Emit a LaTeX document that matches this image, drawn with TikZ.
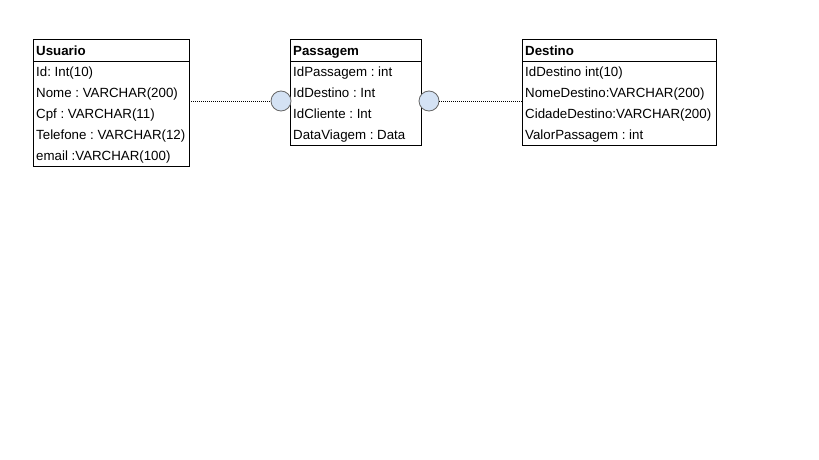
\documentclass[tikz,border=0pt]{standalone}
\usepackage{fontspec}
\setmainfont{Liberation Sans}
\begin{document}
\frenchspacing
\begin{tikzpicture}[x=1pt,y=-1pt,
  tablebox/.style={draw,line width=0.9pt,inner sep=0pt,anchor=north west},
  headtext/.style={anchor=base west,inner sep=0pt,font=\fontsize{13.3}{15}\selectfont\bfseries},
  rowtext/.style={anchor=base west,inner sep=0pt,font=\fontsize{13.3}{15}\selectfont},
  joint/.style={circle,draw=black!60,fill={rgb,255:red,212;green,226;blue,244},line width=0.8pt,minimum size=20pt,inner sep=0pt},
  link/.style={line width=1pt,dash pattern=on 1pt off 1pt}]
\useasboundingbox (0,0) rectangle (819,460);
\fill[white] (0,0) rectangle (819,460);

% Usuario table
\node[tablebox,minimum width=156pt,minimum height=127pt] (usuario) at (33,39) {};
\draw[line width=0.9pt] (33,61) -- (189,61);
\node[headtext] (usuarioH) at (36,55.5) {Usuario};
\node[rowtext] (u1) at (36,76.5) {Id: Int(10)};
\node[rowtext] (u2) at (36,97.5) {Nome : VARCHAR(200)};
\node[rowtext] (u3) at (36,118.5) {Cpf : VARCHAR(11)};
\node[rowtext] (u4) at (36,139.5) {Telefone : VARCHAR(12)};
\node[rowtext] (u5) at (36,160.5) {email :VARCHAR(100)};

% Passagem table
\node[tablebox,minimum width=131pt,minimum height=106pt] (passagem) at (290,39) {};
\draw[line width=0.9pt] (290,61) -- (421,61);
\node[headtext] (passagemH) at (293,55.5) {Passagem};
\node[rowtext] (p1) at (293,76.5) {IdPassagem : int};
\node[rowtext] (p2) at (293,97.5) {IdDestino : Int};
\node[rowtext] (p3) at (293,118.5) {IdCliente : Int};
\node[rowtext] (p4) at (293,139.5) {DataViagem : Data};

% Destino table
\node[tablebox,minimum width=194pt,minimum height=106pt] (destino) at (522,39) {};
\draw[line width=0.9pt] (522,61) -- (716,61);
\node[headtext] (destinoH) at (525,55.5) {Destino};
\node[rowtext] (d1) at (525,76.5) {IdDestino int(10)};
\node[rowtext] (d2) at (525,97.5) {NomeDestino:VARCHAR(200)};
\node[rowtext] (d3) at (525,118.5) {CidadeDestino:VARCHAR(200)};
\node[rowtext] (d4) at (525,139.5) {ValorPassagem : int};

% connection points and dotted links
\coordinate (uEnd) at (189,101);
\coordinate (dEnd) at (522,101);
\node[joint] (jl) at (281,101) {};
\node[joint] (jr) at (429,101) {};
\draw[link] (uEnd) -- (jl.west);
\draw[link] (jr.east) -- (dEnd);
\end{tikzpicture}
\end{document}
